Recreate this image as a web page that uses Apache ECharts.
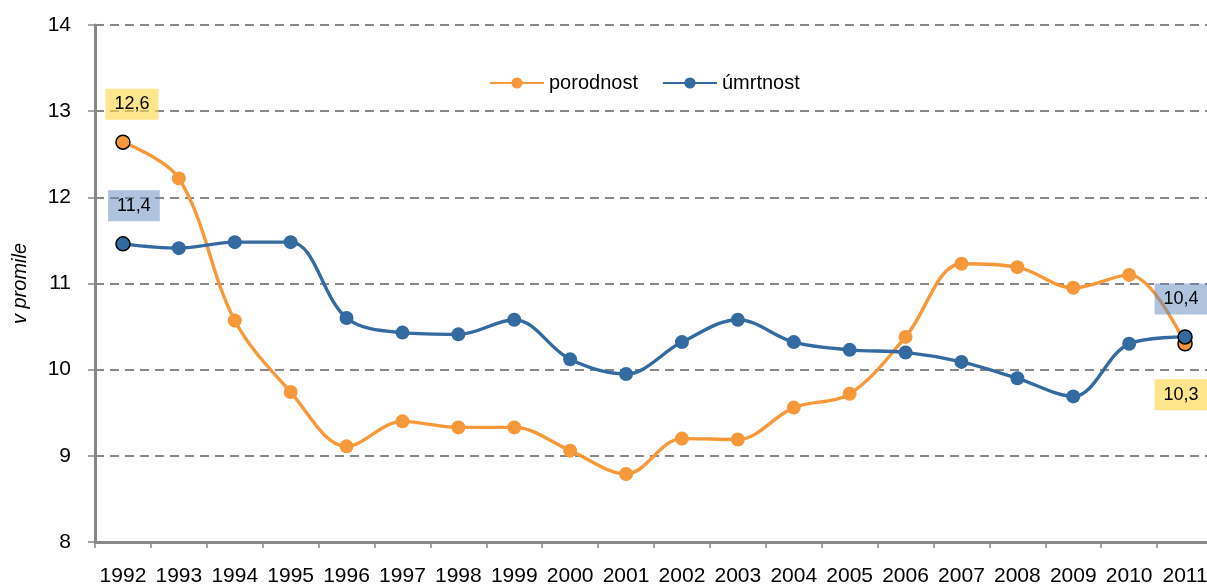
<!DOCTYPE html>
<html>
<head>
<meta charset="utf-8">
<script src="https://cdn.jsdelivr.net/npm/echarts@6/dist/echarts.min.js"></script>
<style>
html,body{margin:0;padding:0;background:#fff;}
#c{width:1207px;height:588px;}
</style>
</head>
<body>
<div id="c"></div>
<script>
var years = ['1992','1993','1994','1995','1996','1997','1998','1999','2000','2001','2002','2003','2004','2005','2006','2007','2008','2009','2010','2011'];
var porodnost = [12.64, 12.22, 10.57, 9.74, 9.11, 9.40, 9.33, 9.33, 9.06, 8.79, 9.20, 9.19, 9.56, 9.72, 10.38, 11.23, 11.19, 10.95, 11.10, 10.30];
var umrtnost = [11.46, 11.41, 11.48, 11.48, 10.60, 10.43, 10.41, 10.58, 10.12, 9.95, 10.32, 10.58, 10.32, 10.23, 10.20, 10.09, 9.90, 9.69, 10.30, 10.38];
var porodnostEndLabels = ['12,6', '10,3'];
var umrtnostEndLabels = ['11,4', '10,4'];
var seriesNames = ['porodnost', 'úmrtnost'];
var yTicks = {min: 8, max: 14, interval: 1};

var FONT = '"Liberation Sans", Arial, sans-serif';
var ORANGE = '#F7993A';
var BLUE = '#346A9F';
var YELLOWBOX = 'rgba(255,214,70,0.62)';
var BLUEBOX = 'rgba(96,135,190,0.5)';

function boxLabel(text, bg, dx, dy) {
  return {
    show: true,
    position: 'inside',
    offset: [dx, dy],
    formatter: function () { return text; },
    color: '#000',
    fontFamily: FONT,
    fontSize: 18,
    backgroundColor: bg,
    padding: [7, 9, 6, 9]
  };
}

function buildData(vals, color, labels) {
  return vals.map(function (v, i) {
    var item = {value: v};
    if (i === 0 || i === vals.length - 1) {
      item.itemStyle = {color: color, borderColor: '#000', borderWidth: 1.5};
      item.label = labels[i === 0 ? 0 : 1];
    }
    return item;
  });
}

var chart = echarts.init(document.getElementById('c'));
chart.setOption({
  animation: false,
  backgroundColor: '#fff',
  grid: {left: 95, right: -6, top: 25, bottom: 46, containLabel: false, outerBoundsMode: 'none'},
  legend: {
    left: 484, top: 68,
    itemWidth: 54, itemHeight: 14, itemGap: 24,
    textStyle: {fontFamily: FONT, fontSize: 20, color: '#000'},
    data: seriesNames
  },
  xAxis: {
    type: 'category',
    data: years,
    boundaryGap: true,
    axisLine: {lineStyle: {color: '#888', width: 3}},
    axisTick: {show: true, length: 6, interval: 0, lineStyle: {color: '#888', width: 1.5}},
    axisLabel: {color: '#000', fontFamily: FONT, fontSize: 21, margin: 24, interval: 0}
  },
  yAxis: {
    type: 'value',
    min: yTicks.min, max: yTicks.max, interval: yTicks.interval,
    name: 'v promile',
    nameLocation: 'middle',
    nameGap: 65,
    nameRotate: 90,
    nameTextStyle: {fontFamily: FONT, fontSize: 20, fontStyle: 'italic', color: '#000'},
    axisLine: {show: true, lineStyle: {color: '#888', width: 3}},
    axisTick: {show: true, length: 7, lineStyle: {color: '#888', width: 1.5}},
    axisLabel: {color: '#000', fontFamily: FONT, fontSize: 21, margin: 24},
    splitLine: {show: true, lineStyle: {color: '#888', width: 1.8, type: [9, 6]}}
  },
  series: [
    {
      name: seriesNames[0],
      type: 'line',
      smooth: 0.35,
      symbol: 'circle',
      symbolSize: 14,
      z: 3,
      color: ORANGE,
      lineStyle: {color: ORANGE, width: 3.4},
      itemStyle: {color: ORANGE},
      data: buildData(porodnost, ORANGE, [boxLabel(porodnostEndLabels[0], YELLOWBOX, 9, -38), boxLabel(porodnostEndLabels[1], YELLOWBOX, -4, 51)])
    },
    {
      name: seriesNames[1],
      type: 'line',
      smooth: 0.35,
      symbol: 'circle',
      symbolSize: 14,
      z: 4,
      color: BLUE,
      lineStyle: {color: BLUE, width: 3.4},
      itemStyle: {color: BLUE},
      data: buildData(umrtnost, BLUE, [boxLabel(umrtnostEndLabels[0], BLUEBOX, 11, -38), boxLabel(umrtnostEndLabels[1], BLUEBOX, -4, -38)])
    }
  ]
});
</script>
</body>
</html>
